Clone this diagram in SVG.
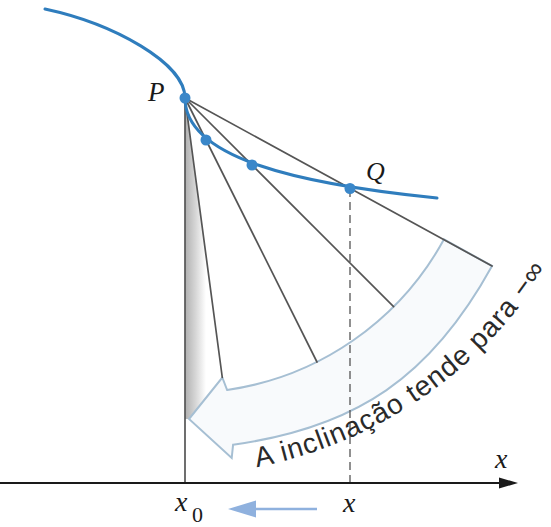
<svg xmlns="http://www.w3.org/2000/svg" width="551" height="527" viewBox="0 0 551 527">
  <defs>
    <linearGradient id="wedgeGrad" gradientUnits="userSpaceOnUse" x1="185" y1="0" x2="206" y2="0">
      <stop offset="0" stop-color="#b0b0b0"/>
      <stop offset="0.5" stop-color="#d6d6d6"/>
      <stop offset="1" stop-color="#ffffff"/>
    </linearGradient>
    <path id="textArc" d="M256.7,467.1 A441,441 0 0 0 565.8,233.9"/>
  </defs>
  <style>
    .secant { stroke: #555555; stroke-width: 1.7; fill: none; stroke-linecap: round; }
    .curve { stroke: #2f7dbd; stroke-width: 3; fill: none; stroke-linecap: round; }
    .dot { fill: #3a87c9; }
    .lbl { font-family: "Liberation Serif", "Times New Roman", serif; font-style: italic; fill: #1a1a1a; }
    .num { font-family: "Liberation Serif", "Times New Roman", serif; fill: #1a1a1a; }
    .arc-text { font-family: "Liberation Sans", Arial, sans-serif; font-size: 28px; fill: #2a2a2a; letter-spacing: 1px; }
  </style>
  <rect x="0" y="0" width="551" height="527" fill="#ffffff"/>

  <g id="wedge">
    <polygon points="185,98 222.3,377.5 189,419 185,419" fill="url(#wedgeGrad)"/>
  </g>

  <g id="big-arrow">
    <path d="M444,239.3 A295,295 0 0 1 227.1,390 L222.3,377.5 L189,419 L231.7,458 L233.1,444.7 C356.9,427.5 431.2,376.5 492,266 Z" fill="#f8fafc" stroke="#a6bfd3" stroke-width="2" stroke-linejoin="miter"/>
  </g>

  <g id="connectors">
    <line class="secant" x1="185" y1="98" x2="185" y2="483"/>
    <line class="secant" x1="185" y1="98" x2="222.3" y2="377.5"/>
    <line class="secant" x1="185" y1="98" x2="317" y2="362"/>
    <line class="secant" x1="185" y1="98" x2="393.6" y2="306.6"/>
    <line class="secant" x1="185" y1="98" x2="492" y2="266"/>
    <line x1="350" y1="189" x2="350" y2="483" stroke="#555555" stroke-width="1.3" stroke-dasharray="8,5"/>
  </g>

  <g id="curve">
    <path class="curve" d="M45,9 C113.6,23.7 185,63 185,98 C185,158 297.7,184 437,198"/>
  </g>

  <g id="point-P"><circle class="dot" cx="185" cy="98" r="5.5"/></g>
  <g id="point-1"><circle class="dot" cx="206" cy="140" r="5.5"/></g>
  <g id="point-2"><circle class="dot" cx="252" cy="165" r="5.5"/></g>
  <g id="point-Q"><circle class="dot" cx="350" cy="188.5" r="5.5"/></g>

  <g id="axis">
    <line x1="0" y1="483" x2="505" y2="483" stroke="#1a1a1a" stroke-width="2"/>
    <polygon points="518,483 499,477.5 499,488.5" fill="#1a1a1a"/>
  </g>

  <g id="small-arrow">
    <line x1="317" y1="509" x2="250" y2="509" stroke="#8fb1de" stroke-width="2.5"/>
    <polygon points="228,509 256,500.5 256,517.5" fill="#8fb1de"/>
  </g>

  <g id="labels">
    <text class="lbl" x="148" y="101" font-size="27">P</text>
    <text class="lbl" x="366" y="180" font-size="26">Q</text>
    <text class="lbl" x="495" y="468" font-size="28">x</text>
    <text class="lbl" x="175" y="511" font-size="28">x</text>
    <text class="num" x="192" y="522" font-size="22">0</text>
    <text class="lbl" x="343" y="512" font-size="28">x</text>
  </g>

  <g id="slope-text">
    <text class="arc-text"><textPath href="#textArc" startOffset="0">A inclinação</textPath></text>
    <text class="arc-text"><textPath href="#textArc" startOffset="170.7">tende</textPath></text>
    <text class="arc-text"><textPath href="#textArc" startOffset="254.5">para −∞</textPath></text>
  </g>
</svg>
